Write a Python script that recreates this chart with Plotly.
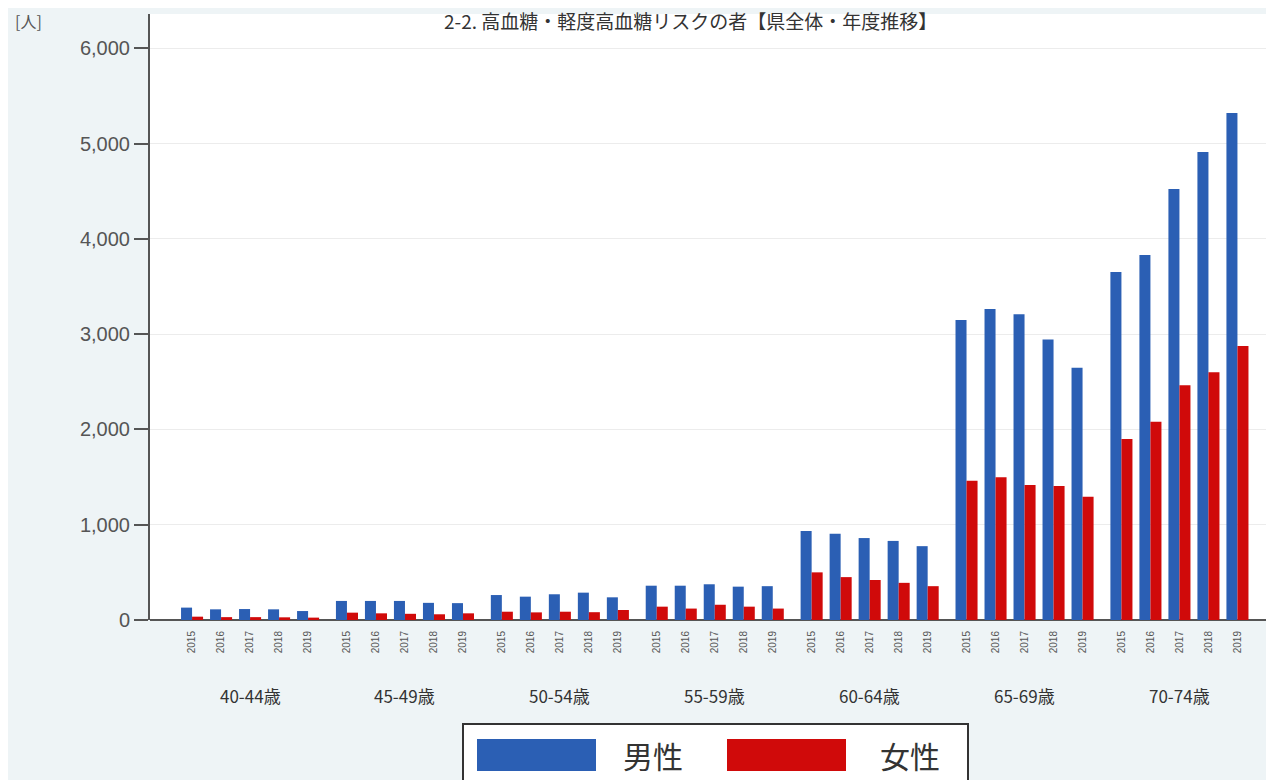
import plotly.graph_objects as go

age_groups = ["40-44歳", "45-49歳", "50-54歳", "55-59歳", "60-64歳", "65-69歳", "70-74歳"]
years = ["2015", "2016", "2017", "2018", "2019"]

male = [
    [130, 112, 115, 112, 94],
    [200, 200, 200, 180, 177],
    [262, 245, 270, 287, 238],
    [360, 360, 375, 350, 355],
    [935, 905, 860, 830, 775],
    [3148, 3263, 3208, 2945, 2648],
    [3652, 3830, 4523, 4911, 5320],
]
female = [
    [35, 30, 30, 28, 25],
    [77, 70, 65, 60, 70],
    [87, 80, 87, 82, 105],
    [140, 120, 160, 140, 120],
    [500, 450, 420, 390, 355],
    [1462, 1497, 1417, 1406, 1294],
    [1899, 2081, 2463, 2599, 2875],
]

y_ticks = [0, 1000, 2000, 3000, 4000, 5000, 6000]
legend_names = ["男性", "女性"]
title_text = "2-2. 高血糖・軽度高血糖リスクの者【県全体・年度推移】"

BLUE = "#2b5fb4"
RED = "#d00a0a"
GROUP_STRIDE = 5.34

xs, tick_text, m_vals, f_vals = [], [], [], []
for g, grp in enumerate(age_groups):
    for i, yr in enumerate(years):
        xs.append(g * GROUP_STRIDE + i)
        tick_text.append(yr)
        m_vals.append(male[g][i])
        f_vals.append(female[g][i])

fig = go.Figure()
fig.add_trace(go.Bar(x=xs, y=m_vals, name=legend_names[0], marker_color=BLUE, marker_line_width=0))
fig.add_trace(go.Bar(x=xs, y=f_vals, name=legend_names[1], marker_color=RED, marker_line_width=0))

# page has an 8px body margin: figure origin sits at (8, 8) on the page
OFF = 8
PAGE_W, PAGE_H = 1274, 780
W, H = PAGE_W - OFF, PAGE_H - OFF
PLOT_L, PLOT_T, PLOT_B = 150, 14, 620  # page pixels
L, T = PLOT_L - OFF, PLOT_T - OFF
B = H - (PLOT_B - OFF)
R = 0
PW, PH = W - L - R, H - T - B


def px(xp):
    return (xp - PLOT_L) / PW


def py(yp):
    return (PLOT_B - yp) / PH


NUM_FONT = "Liberation Sans, Arial, sans-serif"

annotations = []
for g, grp in enumerate(age_groups):
    annotations.append(dict(x=g * GROUP_STRIDE + 2, xref="x", y=py(695), yref="paper",
                            text=grp, showarrow=False, xanchor="center", yanchor="middle",
                            font=dict(size=17, color="#333333")))
annotations.append(dict(x=px(690), xref="paper", y=py(21), yref="paper", text=title_text,
                        showarrow=False, xanchor="center", yanchor="middle",
                        font=dict(size=19, color="#333333")))
annotations.append(dict(x=px(28), xref="paper", y=py(21), yref="paper", text="[人]",
                        showarrow=False, xanchor="center", yanchor="middle",
                        font=dict(size=16, color="#555555")))
# legend texts
annotations.append(dict(x=px(653), xref="paper", y=py(755), yref="paper", text=legend_names[0],
                        showarrow=False, xanchor="center", yanchor="middle",
                        font=dict(size=30, color="#333333")))
annotations.append(dict(x=px(910), xref="paper", y=py(755), yref="paper", text=legend_names[1],
                        showarrow=False, xanchor="center", yanchor="middle",
                        font=dict(size=30, color="#333333")))

shapes = [
    dict(type="rect", xref="paper", yref="paper", x0=px(463), x1=px(968), y0=py(800), y1=py(724),
         line=dict(color="#333333", width=2), fillcolor="white", layer="below"),
    dict(type="rect", xref="paper", yref="paper", x0=px(477), x1=px(596), y0=py(771), y1=py(739),
         line=dict(width=0), fillcolor=BLUE),
    dict(type="rect", xref="paper", yref="paper", x0=px(727), x1=px(846), y0=py(771), y1=py(739),
         line=dict(width=0), fillcolor=RED),
]

fig.update_layout(
    width=W, height=H,
    margin=dict(l=L, r=R, t=T, b=B, autoexpand=False),
    paper_bgcolor="#eef4f6",
    plot_bgcolor="white",
    barmode="group",
    bargap=0.24,
    bargroupgap=0,
    showlegend=False,
    font=dict(family="Noto Sans CJK JP, Noto Sans, sans-serif"),
    annotations=annotations,
    shapes=shapes,
)
fig.update_xaxes(
    range=[-1.45, 37.3],
    tickmode="array", tickvals=xs, ticktext=tick_text,
    tickangle=-90, tickfont=dict(size=10, color="#555555", family=NUM_FONT),
    showgrid=False, zeroline=False,
    showline=False, ticks="", ticklabelstandoff=8,
)
fig.update_yaxes(
    range=[0, 6360],
    tickmode="array", tickvals=y_ticks, tickformat=",d",
    tickfont=dict(size=20, color="#555555", family=NUM_FONT),
    showline=True, linecolor="#555555", linewidth=2,
    ticks="outside", ticklen=14, tickwidth=2, tickcolor="#555555",
    showgrid=True, gridcolor="#ececec", gridwidth=1,
    zeroline=True, zerolinecolor="#555555", zerolinewidth=2,
)

fig.write_html("out.html")
